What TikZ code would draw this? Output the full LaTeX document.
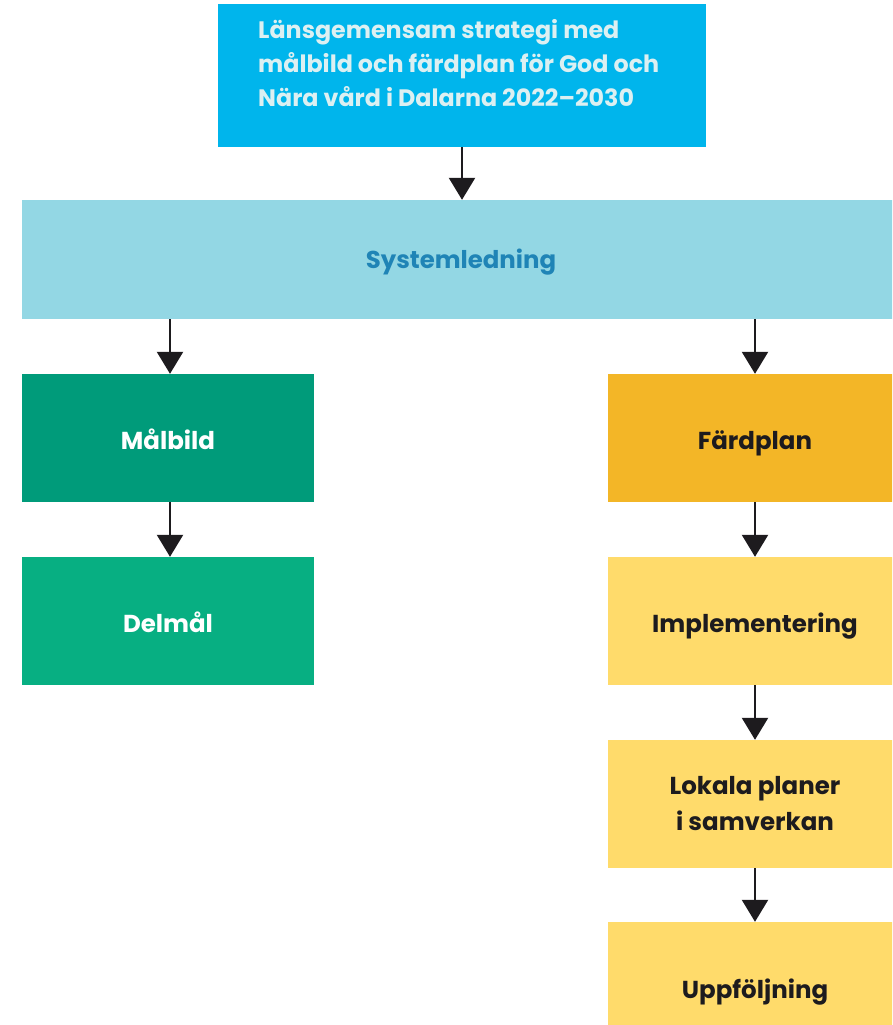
\documentclass[tikz,border=0pt]{standalone}
\usepackage{fontspec}
\setmainfont{Poppins}
\usetikzlibrary{arrows.meta}

\definecolor{topblue}{HTML}{00B5EC}
\definecolor{toptext}{HTML}{DCF0F2}
\definecolor{sysfill}{HTML}{93D7E4}
\definecolor{systext}{HTML}{1F84B6}
\definecolor{goalfill}{HTML}{009B7A}
\definecolor{subfill}{HTML}{07AF82}
\definecolor{planfill}{HTML}{F3B627}
\definecolor{stepfill}{HTML}{FFDB6B}
\definecolor{ink}{HTML}{1D1B1E}

\tikzset{
  box/.style={rectangle, inner sep=0pt, draw=none, minimum height=128pt},
  greenbox/.style={box, minimum width=292pt, text=white},
  yellowbox/.style={box, minimum width=294pt, text=ink, align=center},
  labelfont/.style={font=\bfseries\fontsize{24.5}{36}\selectfont},
  label/.style={labelfont, text height=22pt, text depth=0pt},
  conn/.style={draw=ink, line width=2.4pt,
    -{Triangle[width=26pt,length=22pt]}},
}

\begin{document}
\begin{tikzpicture}[x=1pt,y=-1pt]
  \useasboundingbox (0,0) rectangle (892,1025);
  \clip (0,0) rectangle (892,1025);

  % strategy box with its left-aligned heading
  \node[box, fill=topblue, minimum width=488pt, minimum height=143pt] (top) at (462,75.5) {};
  \node[anchor=north west, inner sep=0pt, align=left, text=toptext,
        font=\bfseries\fontsize{23.8}{34}\selectfont] (toptxt) at (258,19)
        {Länsgemensam strategi med\\målbild och färdplan för God och\\Nära vård i Dalarna 2022–2030};

  % system management band
  \node[box, fill=sysfill, minimum width=878pt, minimum height=119pt,
        text=systext, font=\bfseries\fontsize{24.4}{30}\selectfont,
        text height=17pt, text depth=0pt] (sys) at (461,259.5) {Systemledning};

  % goal column
  \node[greenbox, fill=goalfill, label] (mal) at (168,438) {Målbild};
  \node[greenbox, fill=subfill, label] (del) at (168,621) {Delmål};

  % roadmap column
  \node[yellowbox, fill=planfill, label] (fard) at (755,438) {Färdplan};
  \node[yellowbox, fill=stepfill, label] (impl) at (755,621) {Implementering};
  \node[yellowbox, fill=stepfill, labelfont] (lok) at (755,804) {Lokala planer\\i samverkan};
  \node[yellowbox, fill=stepfill, label, minimum height=130pt] (upp) at (755,987) {Uppföljning};

  % connectors
  \draw[conn] (top.south) -- (sys.north -| top.south);
  \draw[conn] (sys.south -| 170,0) -- (mal.north -| 170,0);
  \draw[conn] (sys.south -| fard.north) -- (fard.north);
  \draw[conn] (mal.south -| 170,0) -- (del.north -| 170,0);
  \draw[conn] (fard.south) -- (impl.north);
  \draw[conn] (impl.south) -- (lok.north);
  \draw[conn] (lok.south) -- (upp.north);
\end{tikzpicture}
\end{document}
